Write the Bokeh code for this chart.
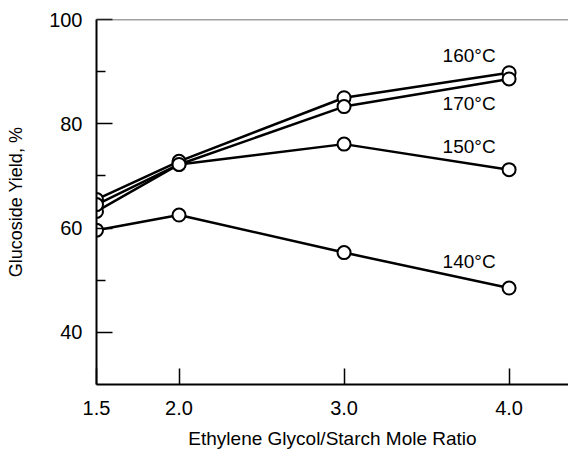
from bokeh.plotting import figure
from bokeh.models import FixedTicker, Span, Label, Range1d
from bokeh.embed import file_html
from bokeh.resources import INLINE

# Data
mole_ratio = [1.5, 2.0, 3.0, 4.0]
yield_140 = [59.6, 62.5, 55.3, 48.5]
yield_150 = [63.2, 72.2, 76.1, 71.2]
yield_160 = [65.5, 72.8, 85.0, 89.8]
yield_170 = [64.5, 72.2, 83.3, 88.6]
series_labels = ["140°C", "150°C", "160°C", "170°C"]

x_ticks = [1.5, 2.0, 3.0, 4.0]
x_tick_labels = ["1.5", "2.0", "3.0", "4.0"]
y_ticks = [40, 60, 80, 100]
y_minor_ticks = [50, 70, 90]

FONT = "Liberation Sans"

p = figure(width=568, height=455, output_backend="svg", toolbar_location=None,
           x_range=Range1d(1.5, 4.36), y_range=Range1d(30, 100),
           min_border_left=96, min_border_top=19, min_border_right=0,
           min_border_bottom=71)
p.outline_line_color = None
p.xgrid.visible = False
p.ygrid.visible = False
p.background_fill_color = "white"
p.border_fill_color = "white"

# axes
p.xaxis.ticker = FixedTicker(ticks=x_ticks)
p.xaxis.major_label_overrides = {t: l for t, l in zip(x_ticks, x_tick_labels)}
p.yaxis.ticker = FixedTicker(ticks=y_ticks, minor_ticks=y_minor_ticks)
for ax in (p.xaxis[0], p.yaxis[0]):
    ax.axis_line_color = "black"
    ax.axis_line_width = 2
    ax.major_tick_line_color = "black"
    ax.major_tick_line_width = 1.5
    ax.major_tick_in = 16
    ax.major_tick_out = 0
    ax.major_label_text_font = FONT
    ax.major_label_text_font_size = "20px"
    ax.major_label_text_color = "black"
    ax.axis_label_text_font = FONT
    ax.axis_label_text_font_size = "18px"
    ax.axis_label_text_font_style = "normal"
    ax.axis_label_text_color = "black"
p.xaxis.axis_label_text_font_size = "19px"
p.xaxis.minor_tick_line_color = None
p.yaxis.minor_tick_line_color = "black"
p.yaxis.minor_tick_line_width = 1.5
p.yaxis.minor_tick_in = 9
p.yaxis.minor_tick_out = 0
p.xaxis.major_label_standoff = 16
p.yaxis.major_label_standoff = 14
p.xaxis.axis_label = "Ethylene Glycol/Starch Mole Ratio"
p.yaxis.axis_label = "Glucoside Yield, %"
p.xaxis.axis_label_standoff = 10
p.yaxis.axis_label_standoff = 20

# top border line
p.add_layout(Span(location=100, dimension="width", line_color="#444444", line_width=1.5))

all_series = [yield_140, yield_150, yield_160, yield_170]
for ys in all_series:
    p.line(mole_ratio, ys, line_color="black", line_width=2.5)
for ys in all_series:
    p.scatter(mole_ratio, ys, marker="circle", size=13, fill_color="white",
              line_color="black", line_width=2)

offsets = {"140°C": 27, "150°C": 23, "160°C": 17, "170°C": -25}
for ys, lab in zip(all_series, series_labels):
    p.add_layout(Label(x=mole_ratio[-1], y=ys[-1], text=lab, x_offset=-40,
                       y_offset=offsets[lab], text_align="center",
                       text_baseline="middle", text_font=FONT,
                       text_font_size="19px", text_color="black"))

open("out.html", "w").write(file_html(p, INLINE))
